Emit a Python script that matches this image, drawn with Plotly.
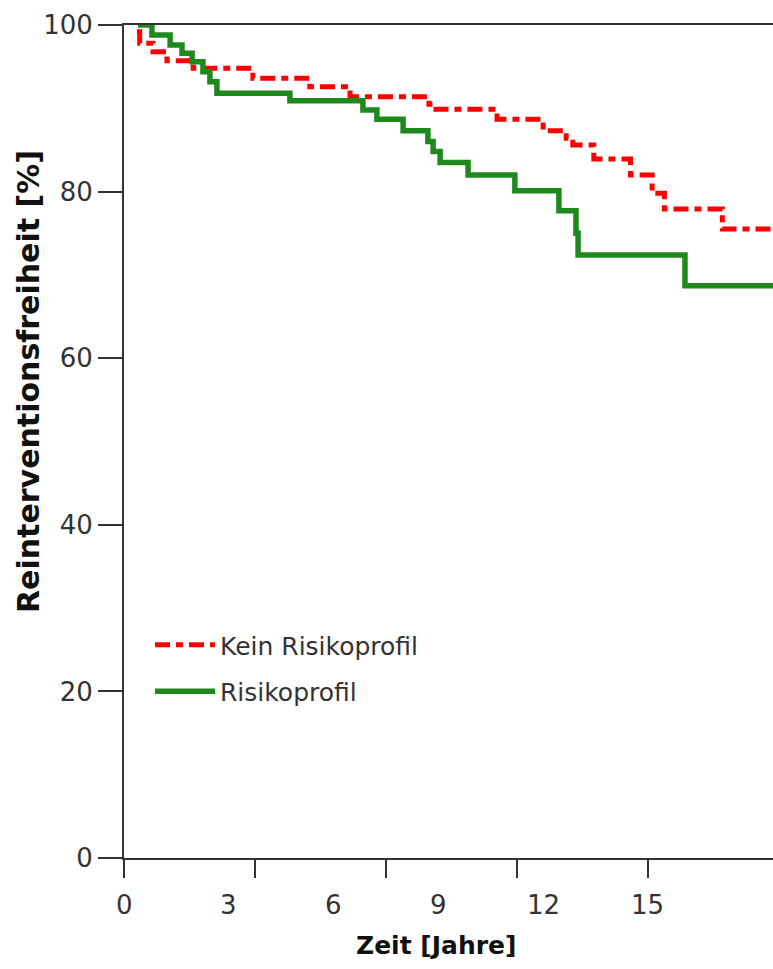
import plotly.graph_objects as go

# Kaplan-Meier style step data (time in years, reintervention-free %)
kein_t = [0.37, 0.45, 0.83, 1.23, 1.98, 3.69, 5.32, 6.47, 8.73, 8.93, 10.68, 12.0,
          12.66, 12.85, 13.45, 14.5, 15.12, 15.47, 17.13, 18.7]
kein_v = [99.2, 97.8, 96.8, 95.7, 94.8, 93.6, 92.6, 91.4, 90.5, 89.9, 88.7, 87.3,
          86.4, 85.6, 83.9, 82.0, 79.8, 77.9, 75.5, 75.5]

risiko_t = [0.40, 0.80, 1.32, 1.66, 1.95, 2.26, 2.46, 2.66, 4.75, 6.84, 7.24, 7.99,
            8.70, 8.85, 9.05, 9.85, 11.19, 12.45, 12.94, 13.0, 16.06, 18.7]
risiko_v = [100, 98.8, 97.6, 96.6, 95.6, 94.4, 93.2, 91.8, 90.9, 89.8, 88.7, 87.3,
            86.0, 84.8, 83.5, 82.0, 80.1, 77.7, 75.0, 72.4, 68.7, 68.7]

x_tick_marks = [0, 3.75, 7.5, 11.25, 15]
x_tick_labels = [0, 3, 6, 9, 12, 15]
y_ticks = [0, 20, 40, 60, 80, 100]

series_names = ["Kein Risikoprofil", "Risikoprofil"]

FONT = "DejaVu Sans"
AX = "#333333"

fig = go.Figure()
fig.add_trace(go.Scatter(
    x=kein_t, y=kein_v, mode="lines", name=series_names[0], legendgroup="a",
    line=dict(shape="hv", color="#ff0000", width=5, dash="15px,6px,7px,6px"),
))
fig.add_trace(go.Scatter(
    x=risiko_t, y=risiko_v, mode="lines", name=series_names[1], legendgroup="b",
    line=dict(shape="hv", color="#1e8a1e", width=5.5),
))

XR = [0, 18.58]
PLOT_H = 833

annotations = [
    dict(text=str(v), xref="x", yref="paper", x=v, y=-(905 - 858) / PLOT_H,
         xanchor="center", yanchor="middle", showarrow=False,
         font=dict(family=FONT, size=26, color=AX))
    for v in x_tick_labels
]
annotations += [
    dict(text="<b>Reinterventionsfreiheit [%]</b>", textangle=-90,
         xref="paper", yref="paper", x=(28 - 124) / 649, y=(858 - 382) / PLOT_H,
         xanchor="center", yanchor="middle", showarrow=False,
         font=dict(family=FONT, size=30, color="#111111")),
    dict(text="<b>Zeit [Jahre]</b>",
         xref="paper", yref="paper", x=(436 - 124) / 649, y=-(945 - 858) / PLOT_H,
         xanchor="center", yanchor="middle", showarrow=False,
         font=dict(family=FONT, size=25, color="#111111")),
]

fig.update_layout(
    width=773, height=969,
    margin=dict(l=124, r=0, t=25, b=111),
    paper_bgcolor="white", plot_bgcolor="white",
    font=dict(family=FONT, size=25, color=AX),
    xaxis=dict(
        range=XR, tickvals=x_tick_marks, ticktext=[""] * len(x_tick_marks),
        ticks="outside", ticklen=18, tickwidth=2, tickcolor=AX,
        showline=True, linecolor=AX, linewidth=2, mirror=True,
        showgrid=False, zeroline=False,
    ),
    yaxis=dict(
        range=[0, 100], tickvals=y_ticks, ticktext=[str(v) for v in y_ticks],
        ticks="outside", ticklen=24, tickwidth=2, tickcolor=AX,
        showline=True, linecolor=AX, linewidth=2,
        showgrid=False, zeroline=False,
        tickfont=dict(family=FONT, size=26, color=AX),
    ),
    showlegend=True,
    legend=dict(
        x=(150 - 124) / 649, y=(858 - 622) / PLOT_H, xanchor="left", yanchor="top",
        bgcolor="rgba(0,0,0,0)", font=dict(family=FONT, size=25, color=AX),
        traceorder="grouped", tracegroupgap=11, itemwidth=60,
    ),
    annotations=annotations,
)

fig.write_html(
    "out.html",
    config={"displayModeBar": False},
    post_script="document.body.style.margin='0';document.body.style.overflow='hidden';",
)
